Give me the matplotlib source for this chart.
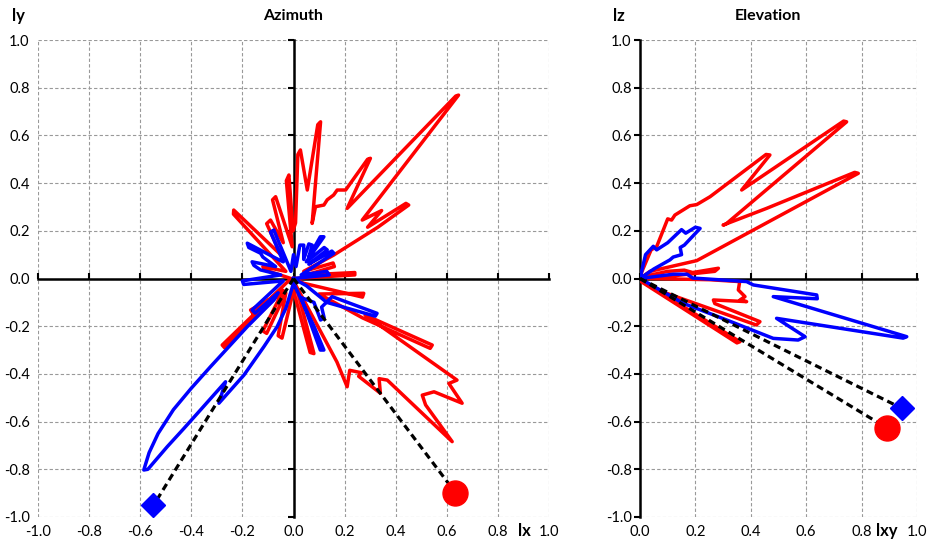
import numpy as np
import matplotlib
matplotlib.use("Agg")
import matplotlib.pyplot as plt
from matplotlib import transforms

# traced lobe outlines, (x, y) in axis units
az_red = [
    (0.00, 0.00), (0.24, 0.015), (0.24, 0.025), (0.05, 0.015),
    (0.16, 0.05), (0.155, 0.065), (0.04, 0.03),
    (0.157, 0.098), (0.33, 0.215), (0.451, 0.308), (0.44, 0.315), (0.29, 0.215),
    (0.345, 0.285), (0.269, 0.245),
    (0.646, 0.769), (0.635, 0.765), (0.21, 0.294), (0.301, 0.504), (0.29, 0.50),
    (0.204, 0.371), (0.171, 0.371), (0.157, 0.35), (0.132, 0.33), (0.119, 0.308),
    (0.086, 0.301), (0.073, 0.231),
    (0.106, 0.657), (0.095, 0.645), (0.054, 0.371), (0.027, 0.539), (0.017, 0.52),
    (0.008, 0.233), (-0.002, 0.20), (-0.018, 0.434), (-0.028, 0.41), (-0.005, 0.133),
    (-0.07, 0.343), (-0.082, 0.33), (-0.04, 0.15), (-0.09, 0.245), (-0.105, 0.23),
    (-0.05, 0.10), (-0.234, 0.287), (-0.235, 0.27), (-0.03, 0.03),
    (-0.12, 0.05), (-0.11, 0.035), (-0.01, 0.0),
    (-0.279, -0.279), (-0.27, -0.29), (-0.05, -0.06),
    (-0.168, -0.132), (-0.16, -0.145), (-0.04, -0.05),
    (-0.12, -0.22), (-0.105, -0.23), (-0.03, -0.06),
    (-0.06, -0.24), (-0.045, -0.25), (0.0, -0.05),
    (0.065, -0.31), (0.08, -0.315), (0.01, -0.03),
    (0.145, -0.30), (0.17, -0.35), (0.21, -0.454), (0.22, -0.385), (0.265, -0.395),
    (0.255, -0.41), (0.34, -0.481), (0.335, -0.42), (0.367, -0.426),
    (0.621, -0.684), (0.517, -0.53), (0.504, -0.489), (0.55, -0.475), (0.66, -0.523),
    (0.608, -0.44), (0.64, -0.426), (0.28, -0.153),
    (0.543, -0.279), (0.535, -0.293), (0.27, -0.165), (0.10, -0.065),
    (0.275, -0.062), (0.27, -0.078), (0.04, -0.02), (0.0, 0.0),
]

az_blue = [
    (0.0, 0.0), (0.14, 0.015), (0.13, 0.03), (0.03, 0.015),
    (0.158, 0.106), (0.15, 0.115), (0.06, 0.06),
    (0.132, 0.12), (0.12, 0.13), (0.05, 0.07),
    (0.119, 0.175), (0.105, 0.175), (0.06, 0.09), (0.073, 0.14), (0.06, 0.145),
    (0.04, 0.08), (0.04, 0.14), (0.025, 0.14), (0.01, 0.05),
    (0.0, 0.10), (-0.01, 0.03),
    (-0.077, 0.203), (-0.09, 0.195), (-0.04, 0.07), (-0.06, 0.08),
    (-0.181, 0.148), (-0.175, 0.13), (-0.129, 0.106), (-0.12, 0.09), (-0.07, 0.05),
    (-0.162, 0.07), (-0.155, 0.055), (-0.129, 0.036), (-0.05, 0.015),
    (-0.20, -0.01), (-0.195, -0.025), (-0.04, -0.01),
    (-0.162, -0.132), (-0.15, -0.145), (-0.06, -0.06),
    (-0.077, -0.09), (-0.181, -0.202), (-0.325, -0.37), (-0.40, -0.46),
    (-0.47, -0.55), (-0.53, -0.65), (-0.565, -0.73), (-0.586, -0.803),
    (-0.57, -0.80), (-0.53, -0.75), (-0.494, -0.705), (-0.43, -0.63),
    (-0.364, -0.551), (-0.266, -0.433), (-0.292, -0.523), (-0.194, -0.405),
    (-0.116, -0.286), (-0.064, -0.202), (-0.03, -0.125), (0.0, -0.02),
    (0.08, -0.20), (0.119, -0.30), (0.105, -0.30), (0.03, -0.08),
    (0.08, -0.10), (0.106, -0.174), (0.12, -0.165), (0.11, -0.12), (0.151, -0.076),
    (0.327, -0.146), (0.32, -0.158), (0.13, -0.10), (0.05, -0.03), (0.0, 0.0),
]

el_red = [
    (0.0, 0.0), (0.036, 0.03), (0.205, 0.075), (0.788, 0.441), (0.775, 0.445),
    (0.457, 0.294), (0.30, 0.224), (0.31, 0.228),
    (0.746, 0.657), (0.735, 0.66), (0.367, 0.371), (0.469, 0.518), (0.455, 0.52),
    (0.253, 0.343), (0.205, 0.31), (0.18, 0.305), (0.126, 0.266), (0.114, 0.245),
    (0.10, 0.25), (0.06, 0.133), (0.04, 0.12), (0.0, 0.01),
    (0.02, 0.01), (0.10, 0.03), (0.16, 0.035), (0.19, 0.025), (0.283, 0.043),
    (0.27, 0.03), (0.03, 0.0),
    (0.25, -0.005), (0.36, -0.013), (0.355, -0.048), (0.379, -0.076), (0.361, -0.09),
    (0.385, -0.097), (0.265, -0.09), (0.27, -0.105), (0.433, -0.181), (0.42, -0.195),
    (0.096, -0.062), (0.02, -0.02), (0.361, -0.265), (0.35, -0.27), (0.0, -0.01),
    (0.0, 0.0),
]

el_blue = [
    (0.0, 0.0), (0.02, 0.10), (0.048, 0.135), (0.06, 0.12), (0.10, 0.15),
    (0.15, 0.205), (0.165, 0.19), (0.20, 0.215), (0.217, 0.21), (0.16, 0.14),
    (0.145, 0.13), (0.15, 0.10), (0.12, 0.09), (0.108, 0.078), (0.05, 0.04),
    (0.0, 0.0), (0.12, 0.018), (0.17, 0.018), (0.19, 0.002), (0.385, -0.013),
    (0.409, -0.027), (0.638, -0.069), (0.64, -0.085), (0.481, -0.076),
    (0.963, -0.244), (0.95, -0.25), (0.493, -0.167), (0.596, -0.244),
    (0.571, -0.258), (0.481, -0.251), (0.313, -0.174), (0.156, -0.104), (0.0, 0.0),
]

# source directions (end of dashed lines)
az_red_src = (0.634, -0.898)
az_blue_src = (-0.548, -0.951)
el_red_src = (0.893, -0.628)
el_blue_src = (0.945, -0.544)

az_ticks = [-1.0, -0.8, -0.6, -0.4, -0.2, 0.0, 0.2, 0.4, 0.6, 0.8, 1.0]
el_xticks = [0.0, 0.2, 0.4, 0.6, 0.8, 1.0]
y_ticks = az_ticks

RED = "#ff0000"
BLUE = "#0000ff"

plt.rcParams["font.family"] = ["Lato", "DejaVu Sans"]
plt.rcParams["font.size"] = 10.5


def setup(ax, xticks):
    ax.set_xlim(xticks[0], xticks[-1])
    ax.set_ylim(-1, 1)
    ax.set_xticks(xticks)
    ax.set_yticks(y_ticks)
    ax.set_axisbelow(True)
    ax.grid(True, color="#999999", linestyle=(0, (3, 2)), linewidth=0.8)
    ax.spines["top"].set_visible(False)
    ax.spines["right"].set_visible(False)
    for s in ("left", "bottom"):
        ax.spines[s].set_position(("data", 0))
        ax.spines[s].set_linewidth(1.8)
        ax.spines[s].set_zorder(2.5)
    ax.tick_params(labelbottom=False, labelleft=False)
    ax.tick_params(axis="x", direction="in", length=4, width=1.5)
    ax.tick_params(axis="y", direction="out", length=4, width=1.5)

    sx = ax.secondary_xaxis("bottom")
    sx.set_xticks(xticks, labels=[f"{t:.1f}" for t in xticks])
    sx.tick_params(length=0, pad=6)
    sy = ax.secondary_yaxis("left")
    sy.set_yticks(y_ticks, labels=[f"{t:.1f}" for t in y_ticks])
    sy.tick_params(length=0, pad=6)
    for sec in (sx, sy):
        for sp in sec.spines.values():
            sp.set_visible(False)


def draw(ax, red, blue, red_src, blue_src):
    r = np.array(red)
    b = np.array(blue)
    ax.plot(r[:, 0], r[:, 1], color=RED, lw=2.5, zorder=3, solid_joinstyle="round")
    ax.plot(b[:, 0], b[:, 1], color=BLUE, lw=2.5, zorder=3.1, solid_joinstyle="round")
    for src in (blue_src, red_src):
        ax.plot([0, src[0]], [0, src[1]], color="black", lw=2.3,
                dashes=(2.2, 1.4), zorder=4)
    ax.plot(*blue_src, marker="D", ms=12, color=BLUE, ls="none", zorder=5, clip_on=False)
    ax.plot(*red_src, marker="o", ms=18, color=RED, ls="none", zorder=5, clip_on=False)


fig = plt.figure(figsize=(9.34, 5.46), dpi=100)
ax1 = fig.add_axes([38 / 934, 1 - 517 / 546, 511 / 934, 477 / 546])
ax2 = fig.add_axes([640 / 934, 1 - 517 / 546, 277 / 934, 477 / 546])

setup(ax1, az_ticks)
setup(ax2, el_xticks)
draw(ax1, az_red, az_blue, az_red_src, az_blue_src)
draw(ax2, el_red, el_blue, el_red_src, el_blue_src)

for ax, name, xpos in ((ax1, "lx", 0.905), (ax2, "lxy", 0.89)):
    tr = transforms.blended_transform_factory(ax.transData, ax.transAxes)
    ax.text(xpos, -0.030, name, transform=tr, ha="center", va="center",
            fontweight="bold", fontsize=12)

fig.text(18 / 934, 1 - 16 / 546, "ly", ha="center", va="center", fontweight="bold", fontsize=12)
fig.text(293 / 934, 1 - 16 / 546, "Azimuth", ha="center", va="center", fontweight="bold", fontsize=11.5)
fig.text(619 / 934, 1 - 16 / 546, "lz", ha="center", va="center", fontweight="bold", fontsize=12)
fig.text(768 / 934, 1 - 16 / 546, "Elevation", ha="center", va="center", fontweight="bold", fontsize=11.5)

fig.savefig("out.png", dpi=100)
